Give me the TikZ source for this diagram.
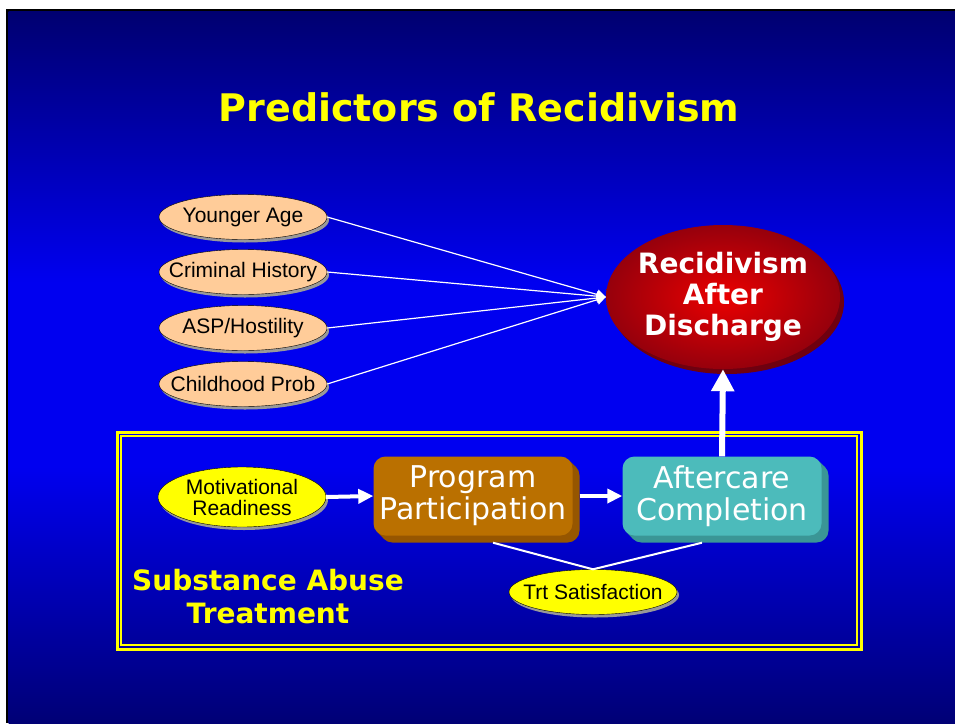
\documentclass[tikz,border=0pt]{standalone}
\usepackage{fontspec}
\setmainfont{DejaVu Sans}
\newfontfamily\arialfont{Liberation Sans}
\usetikzlibrary{shapes.geometric}
\usetikzlibrary{shadows}
\usetikzlibrary{arrows.meta}
\definecolor{peach}{RGB}{255,204,153}
\definecolor{lemon}{RGB}{255,255,0}
\definecolor{progfront}{RGB}{186,112,0}
\definecolor{progside}{RGB}{150,86,0}
\definecolor{aftfront}{RGB}{76,187,187}
\definecolor{aftside}{RGB}{58,150,150}
\definecolor{recred}{RGB}{235,0,0}
\definecolor{recdark}{RGB}{150,0,12}
\definecolor{recshade}{RGB}{110,0,16}
% slide background, the path spans 25bp..75bp
\pgfdeclareverticalshading{slidefade}{100bp}{
rgb(0bp)=(0,0,0.46); rgb(25bp)=(0,0,0.46); rgb(43bp)=(0,0,0.94);
rgb(56bp)=(0,0,0.94); rgb(75bp)=(0,0,0.44); rgb(100bp)=(0,0,0.44)}
\tikzset{
factor/.style={ % Ovals for the predictors
ellipse, draw=black, thin, fill=peach,
minimum width=168pt, minimum height=45pt,
inner xsep=-16pt, inner ysep=0pt,
font=\arialfont\fontsize{21}{21}\selectfont,
drop shadow={shadow xshift=2pt, shadow yshift=-3pt, fill=gray!80, opacity=1}},
trait/.style={ % Yellow ovals inside the treatment frame
factor, fill=lemon, align=center, inner ysep=-2pt},
stage/.style={ % Rounded 3D blocks
rectangle, rounded corners=12pt, text=white, align=center,
minimum width=199pt, minimum height=79pt,
font=\fontsize{30}{32}\selectfont},
depth/.style={ % Extrusion of a block
general shadow={shadow xshift=2pt, shadow yshift=-2pt, fill=#1},
general shadow={shadow xshift=4pt, shadow yshift=-4pt, fill=#1},
general shadow={shadow xshift=6pt, shadow yshift=-6pt, fill=#1},
general shadow={shadow xshift=7pt, shadow yshift=-7pt, fill=#1}},
outcome/.style={ % Red target oval
ellipse, inner color=recred, outer color=recdark,
minimum width=234pt, minimum height=144pt,
inner xsep=-5pt, inner ysep=0pt, text=white, align=center,
font=\bfseries\fontsize{28}{31}\selectfont,
drop shadow={shadow xshift=4pt, shadow yshift=-5pt, fill=recshade, opacity=1}},
link/.style={draw=white, line width=1.2pt,
-{Triangle[width=10pt,length=9pt]}}, % Thin arrows into the outcome
flow/.style={draw=white, line width=4pt,
-{Triangle[width=14pt,length=15pt]}}, % Arrows between stages
rise/.style={draw=white, line width=6pt,
-{Triangle[width=22pt,length=22pt]}},
tie/.style={draw=white, line width=2pt}}

\begin{document}
\begin{tikzpicture}[x=1pt, y=-1pt]
\useasboundingbox (0,0) rectangle (955,723);
% slide
\fill[white] (0,0) rectangle (955,723);
\fill[black] (6,9) rectangle (955,723);
\shade[shading=slidefade] (8.5,11.5) rectangle (955,723);
\draw[lemon, line width=3pt] (117,432) rectangle (861,649);
\draw[lemon, line width=1.5pt] (121,436) rectangle (857,645);

\node[text=lemon, font=\bfseries\fontsize{38}{40}\selectfont] (title) at (479,107) {Predictors of Recidivism};

\node[factor] (young) at (243,217) {Younger Age};
\node[factor] (crime) at (243,272) {Criminal History};
\node[factor] (asp) at (243,328) {ASP/Hostility};
\node[factor] (child) at (243,384) {Childhood Prob};

\node[outcome] (recid) at (723,297) {Recidivism\\After\\Discharge};

\node[trait, minimum height=60pt] (motiv) at (242,497) {Motivational\\Readiness};
\node[stage, fill=progfront, depth=progside] (prog) at (473,496) {Program\\Participation};
\node[stage, fill=aftfront, depth=aftside] (after) at (722,496) {Aftercare\\Completion};
\node[trait] (sat) at (593,592) {Trt Satisfaction};

\node[text=lemon, align=center, font=\bfseries\fontsize{28}{33}\selectfont] (sat label) at (268,597) {Substance Abuse\\Treatment};

\foreach \f in {young,crime,asp,child}
\draw[link] (\f.east) -- (recid.west);
\draw[flow] (motiv.east) -- (prog.west);
\draw[flow] ([xshift=7pt]prog.east) -- (after.west);
\draw[rise] (after.north) -- (recid.south);
\draw[tie] ([xshift=20pt,yshift=-7pt]prog.south) -- (sat.north) -- ([xshift=-20pt,yshift=-7pt]after.south);
\end{tikzpicture}
\end{document}
